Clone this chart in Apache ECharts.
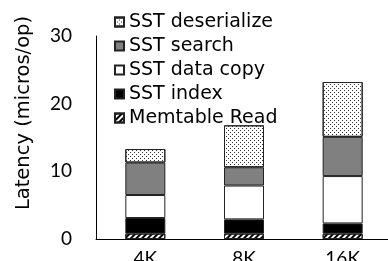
<!DOCTYPE html>
<html><head><meta charset="utf-8">
<script src="https://cdn.jsdelivr.net/npm/echarts@6/dist/echarts.min.js"></script>
<style>html,body{margin:0;padding:0;background:#fff}#c{width:388px;height:261px}</style>
</head><body><div id="c"></div>
<script>
const categories = ['4K', '8K', '16K'];
const memtableRead = [0.8, 0.8, 0.8];
const sstIndex = [2.3, 2.1, 1.5];
const sstDataCopy = [3.4, 5.0, 7.0];
const sstSearch = [4.8, 2.7, 5.8];
const sstDeserialize = [2.0, 6.2, 8.1];
const yTicks = { min: 0, max: 30, interval: 10 };
const legendOrder = ['SST deserialize', 'SST search', 'SST data copy', 'SST index', 'Memtable Read'];

const FONT = 'Lato';
const FONT2 = 'DejaVu Sans';
const border = { borderColor: '#222', borderWidth: 1 };
function s(name, data, itemStyle) {
  return { name, type: 'bar', stack: 'a', data, barWidth: 40,
    itemStyle: Object.assign({}, border, itemStyle) };
}
const chart = echarts.init(document.getElementById('c'), null, { renderer: 'canvas' });
chart.setOption({
  animation: false,
  aria: { enabled: false },
  grid: { left: 96, right: -4, top: 36, bottom: 22, containLabel: false, outerBoundsMode: 'none' },
  legend: {
    orient: 'vertical', left: 109, top: 7, itemWidth: 9, itemHeight: 9, itemGap: 4, itemTextGap: 3,
    icon: 'rect',
    data: legendOrder,
    textStyle: { fontFamily: FONT2, fontSize: 19, color: '#000', lineHeight: 20 }
  },
  xAxis: {
    type: 'category', data: categories,
    axisLine: { lineStyle: { color: '#000', width: 1 } },
    axisTick: { show: false },
    axisLabel: { fontFamily: FONT, fontSize: 19, color: '#000', margin: 10 }
  },
  yAxis: {
    type: 'value', min: yTicks.min, max: yTicks.max, interval: yTicks.interval,
    name: 'Latency (micros/op)', nameLocation: 'middle', nameGap: 62, nameRotate: 90,
    nameTextStyle: { fontFamily: FONT2, fontSize: 19.5, color: '#000', padding: [0, 0, 0, 49] },
    axisLine: { show: true, lineStyle: { color: '#000', width: 1 } },
    axisTick: { show: false },
    splitLine: { show: false },
    axisLabel: { fontFamily: FONT, fontSize: 19, color: '#000', margin: 24 }
  },
  series: [
    s('Memtable Read', memtableRead, { color: '#fff', decal: { symbol: 'rect', symbolSize: 1, color: '#000', dashArrayX: [1, 0], dashArrayY: [2, 2], rotation: -Math.PI / 4 } }),
    s('SST index', sstIndex, { color: '#000' }),
    s('SST data copy', sstDataCopy, { color: '#fff' }),
    s('SST search', sstSearch, { color: '#808080' }),
    s('SST deserialize', sstDeserialize, { color: '#fff', decal: { symbol: 'rect', symbolSize: 1, color: '#333', dashArrayX: [[1, 3], [0, 2, 1, 1]], dashArrayY: [1, 1] } })
  ]
});
</script></body></html>
